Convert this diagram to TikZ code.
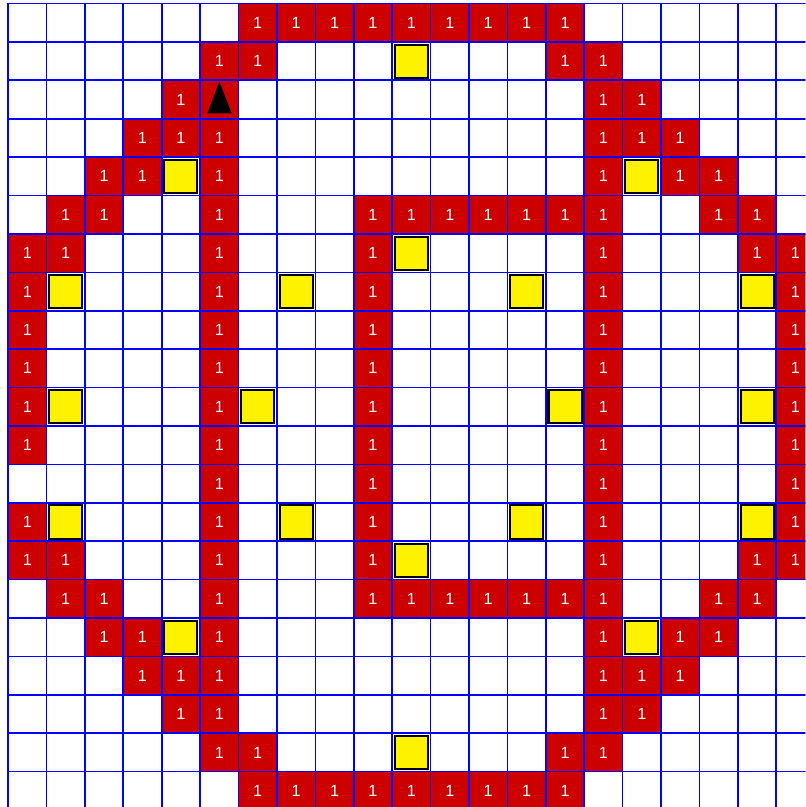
\documentclass[tikz,border=0pt]{standalone}
\usepackage{fontspec}
\setmainfont{Liberation Sans}
\usepackage{tikz}

% one red cell holding a "1": column, row
\newcommand{\onecell}[2]{%
  \draw[redcell] (#1,-#2) rectangle (#1+1,-#2-1);
  \node[onelabel] at (#1+0.5,-#2-0.5) {1};
}

\begin{document}
\begin{tikzpicture}[x=1cm, y=1cm,
  redcell/.style={fill=red!80!black, draw=red, line width=0.6pt},
  yellowcell/.style={fill=yellow, draw=black, line width=1.5pt},
  onelabel/.style={text=white, font=\fontsize{12}{12}\selectfont, inner sep=0pt},
  gridline/.style={blue, line width=1.2pt}]

% Visible area (grid is cut off on the right and bottom)
\clip (-0.21,-20.92) rectangle (20.755,0.09);
\fill[white] (-0.21,-20.92) rectangle (20.755,0.09);

% Red cells, row by row
\foreach \c in {6,...,14} {\onecell{\c}{0}}
\foreach \c in {5,6,14,15} {\onecell{\c}{1}}
\foreach \c in {4,15,16} {\onecell{\c}{2}}
\foreach \c in {3,4,5,15,16,17} {\onecell{\c}{3}}
\foreach \c in {2,3,5,15,17,18} {\onecell{\c}{4}}
\foreach \c in {1,2,5,9,10,11,12,13,14,15,18,19} {\onecell{\c}{5}}
\foreach \c in {0,1,5,9,15,19,20} {\onecell{\c}{6}}
\foreach \r in {7,...,11} {
  \foreach \c in {0,5,9,15,20} {\onecell{\c}{\r}}
}
\foreach \c in {5,9,15,20} {\onecell{\c}{12}}
\foreach \c in {0,5,9,15,20} {\onecell{\c}{13}}
\foreach \c in {0,1,5,9,15,19,20} {\onecell{\c}{14}}
\foreach \c in {1,2,5,9,10,11,12,13,14,15,18,19} {\onecell{\c}{15}}
\foreach \c in {2,3,5,15,17,18} {\onecell{\c}{16}}
\foreach \c in {3,4,5,15,16,17} {\onecell{\c}{17}}
\foreach \c in {4,5,15,16} {\onecell{\c}{18}}
\foreach \c in {5,6,14,15} {\onecell{\c}{19}}
\foreach \c in {6,...,14} {\onecell{\c}{20}}

% Marker cell with the black triangle
\draw[redcell] (5,-2) rectangle (6,-3);
\fill[black] (5.5,-2.03) -- (5.82,-2.86) -- (5.19,-2.86) -- cycle;

% Yellow cells
\foreach \c/\r in {
  10/1, 4/4, 16/4, 10/6,
  1/7, 7/7, 13/7, 19/7,
  1/10, 6/10, 14/10, 19/10,
  1/13, 7/13, 13/13, 19/13,
  10/14, 4/16, 16/16, 10/19
}{
  \draw[yellowcell] (\c+0.07,-\r-0.07) rectangle (\c+0.93,-\r-0.93);
}

% Blue grid on top
\foreach \i in {0,...,21} {
  \draw[gridline] (\i,0) -- (\i,-21);
  \draw[gridline] (0,-\i) -- (21,-\i);
}

\end{tikzpicture}
\end{document}
